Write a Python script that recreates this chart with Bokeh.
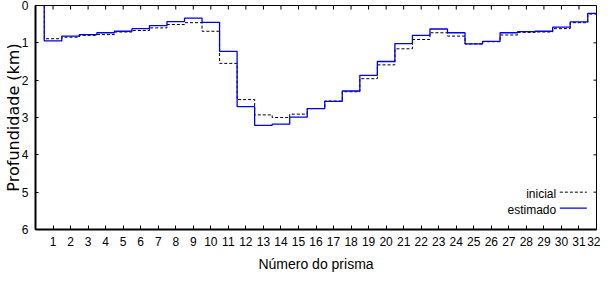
from bokeh.plotting import figure
from bokeh.models import Range1d, FixedTicker
from bokeh.core.properties import value
from bokeh.embed import file_html
from bokeh.resources import INLINE

# ---- data ----
prisma = list(range(1, 33))
inicial = [0.89, 0.85, 0.80, 0.78, 0.71, 0.67, 0.60, 0.51, 0.46, 0.69,
           1.55, 2.52, 2.93, 3.00, 2.91, 2.76, 2.56, 2.31, 1.96, 1.59,
           1.16, 0.91, 0.73, 0.82, 1.03, 0.97, 0.79, 0.72, 0.71, 0.62,
           0.46, 0.23]
estimado = [0.95, 0.82, 0.78, 0.73, 0.69, 0.62, 0.54, 0.43, 0.34, 0.45,
            1.23, 2.71, 3.21, 3.18, 2.99, 2.76, 2.57, 2.29, 1.87, 1.50,
            1.02, 0.80, 0.63, 0.73, 1.03, 0.96, 0.73, 0.70, 0.69, 0.58,
            0.44, 0.21]
superficie = 0.0
x_ticks = list(range(1, 33))
y_ticks = [0, 1, 2, 3, 4, 5, 6]
legend_labels = ["inicial", "estimado"]

X_MIN, X_MAX = 0, 32
Y_MIN, Y_MAX = 0, 6
TICK_FONT = "Liberation Sans"

# step vertices (each prism spans i-0.5 .. i+0.5)
edges = [i - 0.5 for i in prisma] + [prisma[-1] + 0.5]
def step_xy(vals):
    xs = [edges[0]] + edges
    ys = [superficie] + list(vals) + [vals[-1]]
    return xs, ys

p = figure(width=600, height=285, output_backend="svg", toolbar_location=None,
           x_range=Range1d(X_MIN, X_MAX), y_range=Range1d(Y_MAX, Y_MIN),
           min_border_left=30, min_border_right=4, min_border_top=5,
           min_border_bottom=56)
p.background_fill_color = "white"
p.border_fill_color = "white"
p.grid.visible = False
p.outline_line_color = "black"
p.outline_line_width = 1

# main axes
xa = p.xaxis[0]
xa.ticker = FixedTicker(ticks=x_ticks)
xa.axis_line_width = 2
xa.major_tick_in = 4
xa.major_tick_out = 0
xa.minor_tick_line_color = None
xa.major_label_standoff = 7
xa.major_label_text_font = TICK_FONT
xa.major_label_text_font_size = "12px"
xa.major_label_text_color = "black"
xa.axis_label = "Número do prisma"
xa.axis_label_text_font = TICK_FONT
xa.axis_label_text_font_size = "14px"
xa.axis_label_text_font_style = "normal"
xa.axis_label_text_color = "black"
xa.axis_label_standoff = 7

ya = p.yaxis[0]
ya.ticker = FixedTicker(ticks=y_ticks)
ya.axis_line_width = 2
ya.major_tick_in = 3
ya.major_tick_out = 0
ya.minor_tick_line_color = None
ya.major_label_standoff = 7
ya.major_label_text_font = TICK_FONT
ya.major_label_text_font_size = "12px"
ya.major_label_text_color = "black"
ya.axis_label = "Profundidade (km)"
ya.axis_label_text_font = "DejaVu Sans"
ya.axis_label_text_font_size = "16px"
ya.axis_label_text_font_style = "normal"
ya.axis_label_text_color = "black"
ya.axis_label_standoff = -4

# inner tick marks on the top and right borders (mirroring the axis ticks)
TOP_TICK_LEN = 0.11   # km (about 4 px)
RIGHT_TICK_LEN = 0.17  # prism units (about 3 px)
p.segment(x0=x_ticks, y0=[Y_MIN] * len(x_ticks), x1=x_ticks,
          y1=[Y_MIN + TOP_TICK_LEN] * len(x_ticks), line_color="black", line_width=1)
p.segment(x0=[X_MAX] * len(y_ticks), y0=y_ticks, x1=[X_MAX - RIGHT_TICK_LEN] * len(y_ticks),
          y1=y_ticks, line_color="black", line_width=1)

# series
xi, yi = step_xy(inicial)
xe, ye = step_xy(estimado)
p.step(xi, yi, mode="after", line_color="black", line_width=1, line_dash="3 2")
p.step(xe, ye, mode="after", line_color="#0000ee", line_width=1.3)

# legend (text then sample)
leg_text_x = [29.7, 29.7]
leg_text_y = [5.06, 5.47]
leg_line_y = [5.0, 5.43]
leg_x0, leg_x1 = 29.91, 31.45
p.text(x=leg_text_x, y=leg_text_y, text=legend_labels, text_align="right",
       text_baseline="middle", text_font=value(TICK_FONT), text_font_size="12px",
       text_color="black")
p.line([leg_x0, leg_x1], [leg_line_y[0], leg_line_y[0]], line_color="black", line_width=1, line_dash="3 2")
p.line([leg_x0, leg_x1], [leg_line_y[1], leg_line_y[1]], line_color="#0000ee", line_width=1.3)

open("out.html", "w").write(file_html(p, INLINE))
